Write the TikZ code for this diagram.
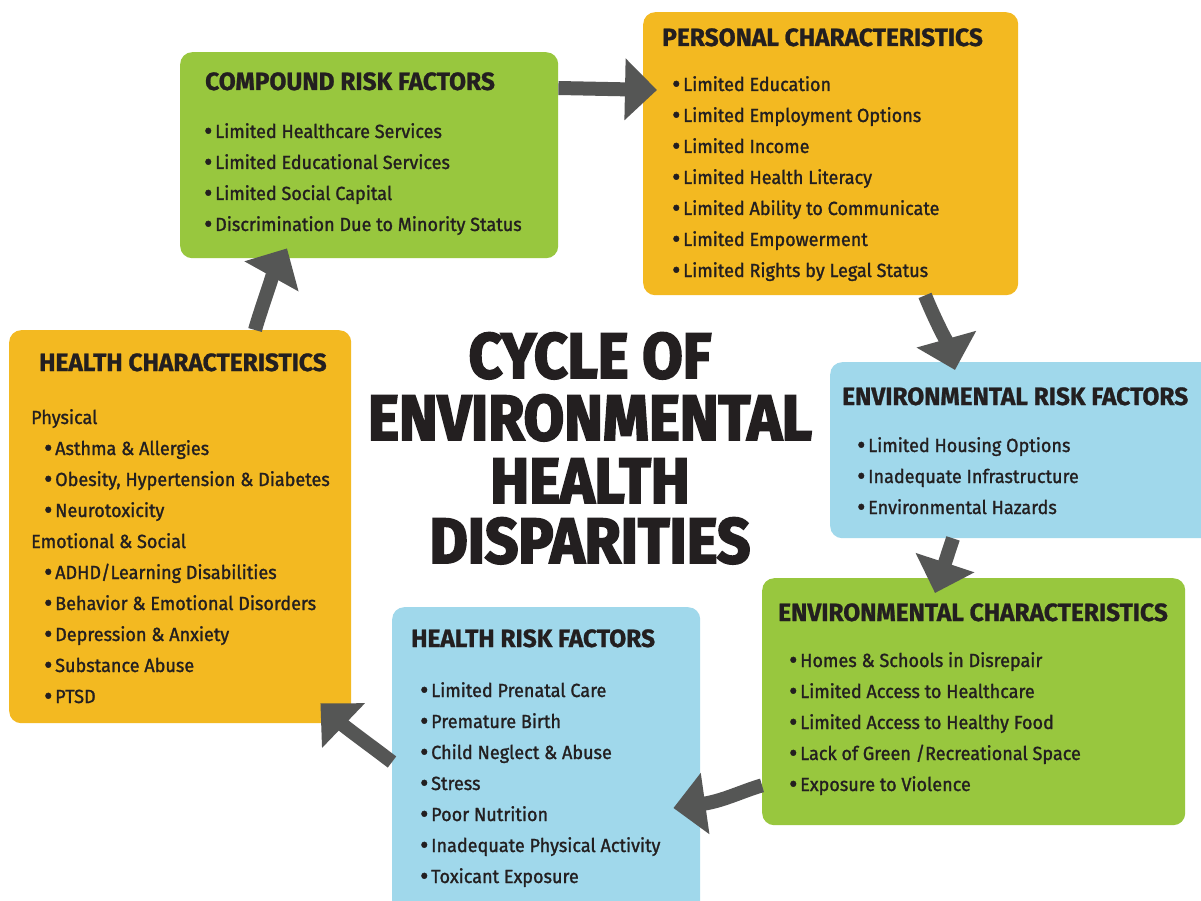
\documentclass[tikz,border=0pt]{standalone}
\usepackage{fontspec}
\usetikzlibrary{arrows.meta,calc}
\setmainfont{Fira Sans}
\newfontfamily\bodyfont{Fira Sans}[FakeStretch=0.95, FakeBold=1.3]
\newfontfamily\headfont{Fira Sans}[FakeStretch=0.98, FakeBold=1]
\newfontfamily\titlefont{Fira Sans}[FakeStretch=0.915, FakeBold=3]
\definecolor{cgreen}{HTML}{98C73E}
\definecolor{corange}{HTML}{F3B921}
\definecolor{cblue}{HTML}{A0D8EB}
\definecolor{arrowgray}{HTML}{555655}
\definecolor{ink}{HTML}{231F20}
\begin{document}
\begin{tikzpicture}[x=1pt,y=-1pt,
  box/.style={rounded corners=12pt, inner sep=0pt, anchor=north west, draw=none},
  head/.style={anchor=base west, inner sep=0pt, text=ink, font=\headfont\bfseries\fontsize{25}{25}\selectfont},
  item/.style={anchor=base west, inner sep=0pt, text=ink, font=\bodyfont\fontsize{19}{19}\selectfont},
  ttl/.style={anchor=base, inner sep=0pt, text=ink, font=\titlefont\bfseries\fontsize{64}{64}\selectfont},
  arr/.style={draw=arrowgray, line width=14pt, -{Triangle[width=60pt,length=32pt]}}]
\useasboundingbox[fill=white] (0,0) rectangle (1201,901);
\newcommand\bul{\makebox[11pt][l]{\raisebox{-0.1em}{\scalebox{1.4}{•}}}}
% boxes
\node[box, fill=cgreen, minimum width=378pt, minimum height=206pt] (crf) at (180,52) {};
\node[box, fill=corange, minimum width=375pt, minimum height=283pt] (pc) at (643,12) {};
\node[box, fill=cblue, minimum width=383pt, minimum height=176pt] (erf) at (830,362) {};
\node[box, fill=cgreen, minimum width=423pt, minimum height=247pt] (ec) at (762,578) {};
\node[box, fill=cblue, minimum width=308pt, minimum height=306pt] (hrf) at (392,607) {};
\node[box, fill=corange, minimum width=342pt, minimum height=393pt] (hc) at (9,330) {};
% headings
\node[head] (crf-h) at (205,90) {COMPOUND RISK FACTORS};
\node[head] (pc-h) at (662,46) {PERSONAL CHARACTERISTICS};
\node[head] (erf-h) at (842,405) {ENVIRONMENTAL RISK FACTORS};
\node[head] (ec-h) at (778,621) {ENVIRONMENTAL CHARACTERISTICS};
\node[head] (hrf-h) at (411,647) {HEALTH RISK FACTORS};
\node[head] (hc-h) at (39,371) {HEALTH CHARACTERISTICS};
% items
\foreach \t [count=\i from 0] in {Limited Healthcare Services, Limited Educational Services, Limited Social Capital, Discrimination Due to Minority Status}
  \node[item] (crf-\i) at (204,138+31*\i) {\bul\t};
\foreach \t [count=\i from 0] in {Limited Education, Limited Employment Options, Limited Income, Limited Health Literacy, Limited Ability to Communicate, Limited Empowerment, Limited Rights by Legal Status}
  \node[item] (pc-\i) at (672,91+31*\i) {\bul\t};
\foreach \t [count=\i from 0] in {Limited Housing Options, Inadequate Infrastructure, Environmental Hazards}
  \node[item] (erf-\i) at (857,452+31*\i) {\bul\t};
\foreach \t [count=\i from 0] in {Homes \& Schools in Disrepair, Limited Access to Healthcare, Limited Access to Healthy Food, Lack of Green /Recreational Space, Exposure to Violence}
  \node[item] (ec-\i) at (789,667+31*\i) {\bul\t};
\foreach \t [count=\i from 0] in {Limited Prenatal Care, Premature Birth, Child Neglect \& Abuse, Stress, Poor Nutrition, Inadequate Physical Activity, Toxicant Exposure}
  \node[item] (hrf-\i) at (420,697+31*\i) {\bul\t};
\node[item] (hc-p) at (31,424) {Physical};
\foreach \t [count=\i from 0] in {Asthma \& Allergies, {Obesity, Hypertension \& Diabetes}, Neurotoxicity}
  \node[item] (hcp-\i) at (44,455+31*\i) {\bul\t};
\node[item] (hc-e) at (31,548) {Emotional \& Social};
\foreach \t [count=\i from 0] in {ADHD/Learning Disabilities, Behavior \& Emotional Disorders, Depression \& Anxiety, Substance Abuse, PTSD}
  \node[item] (hce-\i) at (44,579+31*\i) {\bul\t};
% title
\node[ttl] (t1) at (590,378) {CYCLE OF};
\node[ttl] (t2) at (590,440) {ENVIRONMENTAL};
\node[ttl] (t3) at (590,503) {HEALTH};
\node[ttl] (t4) at (590,563) {DISPARITIES};
% arrows
\draw[arr] ($(crf.north east)+(0,36)$) -- ($(pc.north west)+(14,78)$);
\draw[arr] ($(pc.south west)+(282,0)$) .. controls (935,320) and (948,345) .. ($(erf.north west)+(125,8)$);
\draw[arr] ($(erf.south west)+(123,0)$) -- ($(ec.north west)+(173,15)$);
\draw[arr] ($(ec.south west)+(0,-40)$) .. controls (745,790) and (723,801) .. ($(hrf.north east)+(-27,201)$);
\draw[arr] ($(hrf.north west)+(0,155)$) .. controls (375,749) and (345,727) .. ($(hc.south east)+(-31,-20)$);
\draw[arr] ($(hc.north west)+(246,0)$) .. controls (260,312) and (275,270) .. ($(crf.south west)+(107,-10)$);
\end{tikzpicture}
\end{document}
